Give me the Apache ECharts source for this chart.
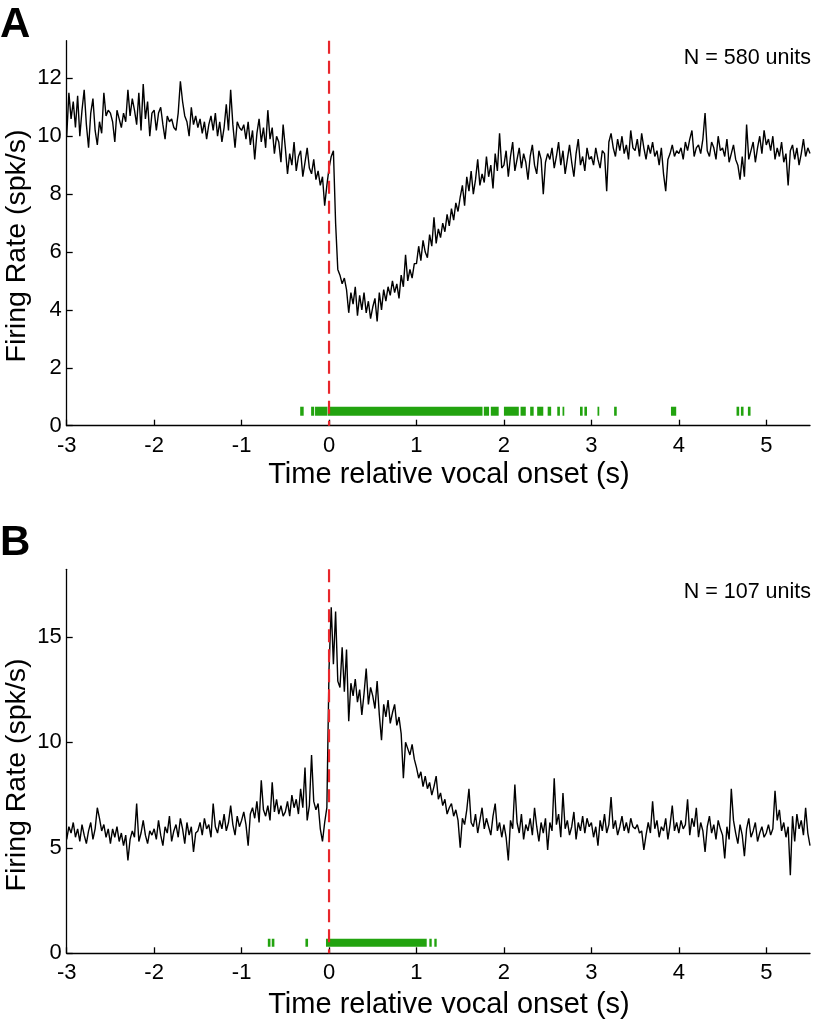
<!DOCTYPE html>
<html><head><meta charset="utf-8">
<script src="https://cdn.jsdelivr.net/npm/echarts@6/dist/echarts.min.js"></script>
<style>html,body{margin:0;padding:0;background:#fff}#c{width:815px;height:1020px}</style>
</head><body><div id="c"></div>
<script>
// time grid: samples every 0.025 s from -3 to 5.5 s
const T_START = -3, T_STEP = 0.025;

// Panel A firing rate (spk/s)
const rateA = [
10.0,11.5,10.6,11.2,10.3,11.4,10.0,10.9,11.6,10.4,9.6,10.8,11.3,10.2,9.7,10.5,10.1,11.5,10.7,10.9,
10.8,10.5,9.8,10.9,10.6,10.3,10.8,10.5,11.6,10.7,11.3,10.9,10.4,11.5,10.2,11.8,10.6,11.2,10.0,10.8,
10.9,10.2,10.8,11.0,10.4,9.9,10.7,10.5,10.6,10.3,10.2,10.8,11.9,11.2,10.7,10.5,10.0,11.0,10.4,10.7,
10.3,10.6,10.1,10.5,9.9,10.4,10.7,10.2,10.8,10.0,10.5,9.8,10.3,11.1,10.2,11.6,10.4,9.6,10.5,10.3,
10.2,10.4,9.9,10.5,9.7,10.2,9.2,10.1,10.6,9.8,10.3,9.6,10.9,9.9,10.3,9.4,10.0,9.8,9.1,10.4,
9.6,8.7,9.4,9.0,9.8,8.8,9.3,9.5,8.6,9.1,9.6,8.9,8.7,9.2,8.5,8.8,8.3,8.6,7.6,8.3,
8.9,9.3,9.5,7.0,5.4,5.2,4.9,5.1,4.7,3.9,4.6,4.2,4.8,3.8,4.5,4.0,4.6,3.9,4.3,3.7,
4.1,4.4,3.6,4.6,4.0,4.7,4.3,4.8,4.5,5.0,4.6,4.9,4.4,5.2,4.8,5.9,5.0,5.4,5.1,5.6,
5.6,6.2,5.7,6.4,6.0,5.8,6.6,6.2,7.2,6.3,6.8,6.5,7.0,6.7,7.3,6.9,7.5,7.1,7.7,7.4,
7.9,8.3,7.6,8.6,8.1,8.8,8.0,8.5,9.2,8.3,8.7,8.4,9.3,8.6,9.0,8.2,9.4,8.8,10.1,8.9,
9.0,9.5,8.6,9.3,9.8,8.8,9.2,9.6,8.9,9.4,9.1,8.5,9.3,9.7,9.0,8.7,9.5,9.2,8.0,9.1,
9.4,9.2,9.6,8.9,9.3,9.8,9.0,9.5,8.7,9.2,9.7,9.1,8.6,9.4,9.9,9.0,9.3,8.8,9.6,9.2,
9.3,9.0,9.6,9.2,8.9,9.5,9.4,8.1,9.8,10.1,9.6,9.3,9.9,9.5,10.0,9.4,9.7,9.2,10.2,9.6,
9.5,9.9,9.3,10.1,9.6,9.2,9.7,9.4,9.8,9.3,9.5,9.0,9.6,8.7,8.1,9.2,9.4,9.7,9.3,9.5,
9.4,9.6,9.2,9.8,9.5,9.9,10.2,9.3,9.6,9.7,9.4,9.9,10.8,9.5,9.3,9.8,9.6,9.2,10.0,9.5,
9.6,9.3,9.9,9.1,9.4,9.7,9.2,9.0,8.5,9.3,8.6,10.4,9.2,9.5,9.8,9.1,9.6,10.0,9.4,10.2,
9.7,9.9,9.5,10.0,9.2,9.6,9.3,9.8,9.1,9.4,8.3,9.5,9.7,9.2,9.6,9.0,9.4,9.9,9.3,9.6,9.4
];

// Panel B firing rate (spk/s)
const rateB = [
5.4,6.0,5.7,6.2,5.5,5.9,5.3,6.1,5.6,5.2,5.8,6.2,5.4,5.9,6.9,6.4,5.8,6.1,5.5,5.9,
5.2,5.9,5.5,6.0,5.3,5.7,5.1,5.6,4.4,5.4,5.8,5.5,7.1,5.3,5.7,6.3,5.6,5.2,5.8,5.6,
5.9,5.4,6.3,5.6,5.1,6.0,5.7,6.5,5.3,5.8,6.1,5.5,6.4,5.9,5.2,6.2,5.6,6.0,4.8,5.7,
5.8,6.2,5.6,6.4,5.9,6.1,5.5,7.1,6.0,5.7,6.3,5.9,6.6,5.8,6.2,7.0,6.1,5.6,6.5,6.0,
6.3,6.7,6.1,5.1,6.6,6.9,6.4,7.2,6.2,8.2,6.8,6.5,7.0,6.3,8.1,6.7,7.3,6.6,7.0,6.5,
6.7,7.2,6.5,7.5,6.9,7.3,6.6,7.8,6.9,8.8,6.3,7.0,9.4,7.2,6.8,7.1,5.9,5.3,6.2,6.9,
13.5,16.4,13.7,16.2,12.9,12.6,14.5,12.4,14.4,11.0,12.8,12.2,13.0,11.9,12.5,11.3,12.3,13.5,11.8,12.6,
12.2,11.6,12.9,11.3,10.1,11.8,11.2,12.0,10.9,11.4,11.8,10.8,11.2,10.4,8.3,10.0,9.7,9.4,9.9,9.2,
8.8,8.3,8.6,7.9,8.4,7.8,8.1,7.5,7.9,8.4,7.3,7.6,7.0,7.3,6.6,6.9,7.1,6.5,6.8,6.3,
5.0,6.4,6.1,6.8,7.8,6.2,6.0,6.6,5.7,6.3,6.9,5.9,6.4,6.0,5.6,6.5,7.1,5.8,6.2,5.5,
6.1,5.5,4.4,6.3,5.9,8.0,6.2,5.7,6.6,5.4,6.1,5.8,6.4,5.6,6.9,6.0,5.3,6.2,5.7,6.4,
4.9,6.2,5.8,8.3,6.1,6.6,5.5,7.6,5.9,6.3,5.6,6.0,6.7,5.4,6.2,5.8,6.5,5.7,6.4,6.0,
6.2,5.5,6.0,5.1,6.3,5.8,6.6,5.7,6.1,7.4,5.9,6.3,5.6,6.0,6.5,5.8,6.2,5.7,6.4,6.0,
5.9,6.1,5.7,5.8,4.9,5.6,6.2,5.7,7.2,5.9,6.3,5.5,6.0,5.8,6.4,5.4,6.1,7.0,5.8,6.2,
5.7,6.3,5.9,6.1,7.3,5.6,6.4,6.0,6.9,5.5,6.2,5.8,4.8,6.0,6.5,5.7,6.1,5.4,6.3,5.9,
5.6,4.5,6.0,5.4,7.8,6.3,5.7,5.2,6.1,5.6,4.6,5.9,6.4,5.5,5.8,6.2,5.3,5.7,6.0,5.5,
5.7,6.1,5.6,5.9,7.7,6.3,6.8,5.8,6.2,5.5,6.0,3.7,6.5,5.3,6.6,5.9,6.3,5.6,6.9,5.7,5.1
];

// significance raster intervals [start s, end s]
const rasterA = [
[-0.33,-0.29],[-0.205,-0.17],[-0.16,-0.02],[-0.015,1.755],[1.77,1.83],[1.85,1.94],
[2.0,2.17],[2.19,2.25],[2.30,2.34],[2.38,2.45],[2.50,2.54],[2.61,2.64],[2.67,2.69],
[2.87,2.90],[2.92,2.95],[3.07,3.09],[3.26,3.29],[3.91,3.97],[4.66,4.69],[4.71,4.74],[4.79,4.82]
];
const rasterB = [
[-0.70,-0.67],[-0.655,-0.625],[-0.27,-0.24],[-0.035,1.117],[1.147,1.174],[1.204,1.231]
];
const rasterLevel = 0.5;

// axes
const xRange = [-3, 5.5];
const xTicks = [-3,-2,-1,0,1,2,3,4,5];
const yMaxA = 13.3, yTicksA = [0,2,4,6,8,10,12];
const yMaxB = 18.2, yTicksB = [0,5,10,15];
const onsetTime = 0;

const panelLetters = ['A','B'];
const nLabels = ['N = 580 units','N = 107 units'];
const xTitle = 'Time relative vocal onset (s)';
const yTitle = 'Firing Rate (spk/s)';

const FONT = "'Liberation Sans', Arial, Helvetica, sans-serif";
const toPairs = arr => arr.map((v,i) => [Math.round((T_START + i*T_STEP)*1000)/1000, v]);

const chart = echarts.init(document.getElementById('c'), null, {renderer:'canvas'});

function xAxisDef(gi){
  return {
    type:'value', gridIndex:gi, min:xRange[0], max:xRange[1], interval:1,
    axisLine:{show:true, onZero:false, lineStyle:{color:'#000', width:1.3}},
    axisTick:{show:true, inside:true, length:6, customValues:xTicks, lineStyle:{color:'#000', width:1.3}},
    axisLabel:{customValues:xTicks, color:'#000', fontSize:22, fontFamily:FONT, margin:9},
    splitLine:{show:false}
  };
}
function yAxisDef(gi, max, ticks){
  return {
    type:'value', gridIndex:gi, min:0, max:max,
    axisLine:{show:true, onZero:false, lineStyle:{color:'#000', width:1.3}},
    axisTick:{show:true, inside:true, length:6, customValues:ticks, lineStyle:{color:'#000', width:1.3}},
    axisLabel:{customValues:ticks, color:'#000', fontSize:22, fontFamily:FONT, margin:5},
    splitLine:{show:false}
  };
}
function rasterSeries(gi, data){
  return {
    type:'custom', xAxisIndex:gi, yAxisIndex:gi, z:3,
    data: data.map(d => [d[0], d[1], rasterLevel]),
    encode:{x:[0,1], y:2},
    renderItem:(params, api) => {
      const s = api.coord([api.value(0), api.value(2)]);
      const e = api.coord([api.value(1), api.value(2)]);
      const h = gi === 0 ? 9 : 8;
      return {type:'rect', shape:{x:s[0], y:s[1]-h/2, width:Math.max(e[0]-s[0], 1.5), height:h},
              style:{fill:'#22a30f'}};
    }
  };
}
function onsetSeries(gi, max){
  return {
    type:'line', xAxisIndex:gi, yAxisIndex:gi, z:5, symbol:'none', silent:true,
    data:[[onsetTime, max],[onsetTime, 0]],
    lineStyle:{color:'#e8262b', width:2.2, type:[13,7]}
  };
}
function traceSeries(gi, arr){
  return {
    type:'line', xAxisIndex:gi, yAxisIndex:gi, z:2, symbol:'none', silent:true,
    data:toPairs(arr), lineStyle:{color:'#000', width:1.4}
  };
}
function txt(x, y, text, size, opts){
  return Object.assign({type:'text', x:x, y:y, silent:true,
    style:Object.assign({text:text, fill:'#000', font: size + 'px ' + FONT,
      textAlign:'center', textVerticalAlign:'middle'}, (opts && opts.style) || {})},
    opts && opts.rotation ? {rotation:opts.rotation} : {});
}

chart.setOption({
  animation:false,
  backgroundColor:'#fff',
  grid:[
    {left:66.7, top:40.7, width:743.3, height:385, containLabel:false},
    {left:66.7, top:569.3, width:743.3, height:384, containLabel:false}
  ],
  xAxis:[xAxisDef(0), xAxisDef(1)],
  yAxis:[yAxisDef(0, yMaxA, yTicksA), yAxisDef(1, yMaxB, yTicksB)],
  series:[
    traceSeries(0, rateA), rasterSeries(0, rasterA), onsetSeries(0, yMaxA),
    traceSeries(1, rateB), rasterSeries(1, rasterB), onsetSeries(1, yMaxB)
  ],
  graphic:[
    txt(0, 25, panelLetters[0], 42, {style:{textAlign:'left', font:'bold 42px ' + FONT}}),
    txt(0, 543, panelLetters[1], 42, {style:{textAlign:'left', font:'bold 42px ' + FONT}}),
    txt(811, 58, nLabels[0], 21.5, {style:{textAlign:'right'}}),
    txt(811, 592, nLabels[1], 21.5, {style:{textAlign:'right'}}),
    txt(449, 475, xTitle, 29),
    txt(449, 1005, xTitle, 29),
    txt(17, 246, yTitle, 28.5, {rotation:Math.PI/2}),
    txt(17, 775, yTitle, 28.5, {rotation:Math.PI/2})
  ]
});
</script>
</body></html>
